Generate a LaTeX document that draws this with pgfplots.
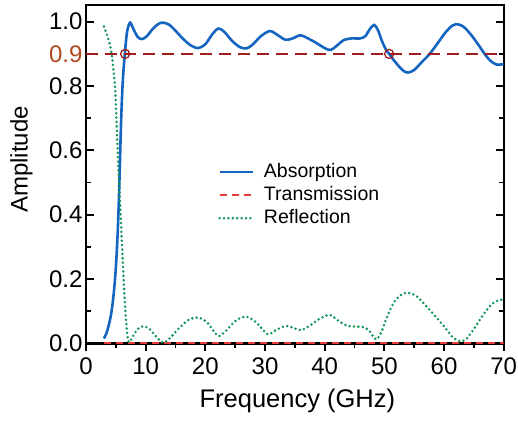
\documentclass[border=0pt]{standalone}
\usepackage{fontspec}
\setmainfont{Liberation Sans}
\usepackage{pgfplots}
\pgfplotsset{compat=1.18}
\definecolor{cblue}{RGB}{21,101,192}
\definecolor{cgreen}{RGB}{20,150,90}
\definecolor{cred}{RGB}{232,60,60}
\definecolor{cdark}{RGB}{160,30,30}
\definecolor{clab}{RGB}{176,72,32}
\begin{document}
\begin{tikzpicture}
\begin{axis}[
  scale only axis,
  width=417.7pt, height=338.3pt,
  xmin=0, xmax=70, ymin=0, ymax=1.052,
  axis line style={line width=2.4pt},
  xtick={0,10,...,70},
  ytick={0,0.2,0.4,0.6,0.8,1.0},
  minor x tick num=1,
  minor y tick num=1,
  xtick pos=bottom,
  ytick pos=both,
  xtick align=outside,
  ytick align=inside,
  major tick length=8pt,
  minor tick length=4.5pt,
  every tick/.style={black, line width=1.8pt},
  /pgf/number format/assume math mode=true,
  yticklabel style={/pgf/number format/fixed, /pgf/number format/fixed zerofill, /pgf/number format/precision=1},
  ticklabel style={font=\fontsize{24}{26}\selectfont},
  xticklabel style={yshift=-3pt},
  extra y ticks={0.9},
  extra y tick style={major tick length=0pt, yticklabel style={color=clab}},
  xlabel={Frequency (GHz)},
  ylabel={Amplitude},
  xlabel style={font=\fontsize{25.5}{27}\selectfont, at={(rel axis cs:0.506,0)}, anchor=north, inner sep=0pt, yshift=-45.5pt},
  ylabel style={font=\fontsize{24}{26}\selectfont, at={(rel axis cs:0,0.543)}, anchor=north, inner sep=0pt, yshift=76pt},
  legend style={at={(rel axis cs:0.316,0.533)}, anchor=north west, draw=none, fill=none, inner sep=0pt,
    font=\fontsize{19.5}{22}\selectfont, row sep=5pt, column sep=10pt,
    nodes={inner sep=0pt, text height=14pt, text depth=4pt}},
  legend cell align=left,
  legend image code/.code={\draw[#1] (0pt,0pt) -- (33pt,0pt);},
]
\addplot[cblue, line width=2.6pt, smooth, tension=0.5] coordinates {
(3.0,0.015) (3.4,0.03) (3.8,0.055) (4.2,0.09) (4.5,0.13) (4.8,0.185) (5.05,0.25)
(5.3,0.34) (5.5,0.44) (5.7,0.57) (5.9,0.70) (6.15,0.81) (6.5,0.90) (6.9,0.97) (7.4,0.997)
(8.0,0.975) (8.7,0.952) (9.4,0.946) (10.2,0.955) (11.2,0.978) (12.2,0.994) (13.0,0.997)
(14.0,0.990) (15.0,0.972) (16.2,0.948) (17.5,0.927) (18.8,0.918) (20.0,0.930) (21.2,0.962)
(22.2,0.979) (23.2,0.968) (24.5,0.940) (25.8,0.921) (26.9,0.917) (28.0,0.930) (29.3,0.955)
(30.8,0.971) (32.0,0.960) (33.4,0.944) (34.6,0.948) (35.9,0.958) (37.0,0.950) (38.5,0.935)
(40.0,0.918) (41.0,0.912) (42.0,0.925) (43.2,0.943) (44.5,0.948) (45.9,0.948) (46.8,0.955)
(47.6,0.978) (48.3,0.990) (48.9,0.975) (49.6,0.940) (50.3,0.912) (50.8,0.900) (51.6,0.880)
(52.5,0.860) (53.3,0.846) (54.0,0.842) (55.0,0.850) (56.3,0.875) (57.6,0.900) (59.0,0.935)
(60.3,0.968) (61.4,0.988) (62.3,0.992) (63.3,0.984) (64.5,0.960) (65.7,0.930) (66.8,0.900)
(67.8,0.878) (68.8,0.867) (70.0,0.868)
};
\addlegendentry{Absorption}
\addplot[cred, line width=2pt, dash pattern=on 7pt off 5pt] coordinates {
(3.0,0.001) (10,0.001) (20,0.001) (30,0.001) (40,0.001) (50,0.001) (60,0.001) (70,0.001)
};
\addlegendentry{Transmission}
\addplot[cgreen, line width=2.8pt, line cap=round, dash pattern=on 0pt off 4.4pt, smooth, tension=0.5] coordinates {
(3.0,0.985) (3.5,0.96) (4.0,0.93) (4.3,0.90) (4.6,0.85) (4.86,0.80) (5.1,0.70) (5.3,0.60)
(5.55,0.50) (5.8,0.40) (6.05,0.30) (6.3,0.20) (6.6,0.10) (6.9,0.03) (7.2,0.003) (7.8,0.02)
(8.6,0.043) (9.6,0.053) (10.6,0.045) (11.8,0.02) (12.9,0.002) (14.0,0.015) (15.5,0.045)
(17.2,0.073) (18.8,0.080) (20.3,0.065) (21.5,0.035) (22.3,0.022) (23.5,0.040) (25.2,0.072)
(26.9,0.083) (28.5,0.065) (30.0,0.035) (30.7,0.028) (32.0,0.043) (33.6,0.054) (35.0,0.046)
(36.1,0.041) (37.5,0.055) (39.3,0.078) (40.9,0.088) (42.3,0.070) (43.7,0.055) (45.0,0.052)
(46.5,0.050) (47.5,0.038) (48.6,0.012) (49.5,0.035) (50.5,0.085) (51.7,0.130) (53.0,0.153)
(54.0,0.157) (55.3,0.148) (56.8,0.120) (58.5,0.085) (60.2,0.048) (61.5,0.018) (62.7,0.006)
(63.8,0.015) (65.2,0.050) (66.8,0.095) (68.2,0.125) (69.4,0.135) (70.0,0.135)
};
\addlegendentry{Reflection}
\addplot[cdark, line width=1.6pt, dash pattern=on 12pt off 7pt, forget plot] coordinates {(0,0.9) (70,0.9)};
\addplot[cdark, only marks, mark=o, mark size=4.5pt, mark options={line width=1.3pt}, forget plot] coordinates {(6.55,0.9) (50.8,0.9)};
\coordinate (bl) at (rel axis cs:0,0);
\end{axis}
\pgfresetboundingbox
\path[use as bounding box] (bl) ++(-86pt,-77.7pt) rectangle ++(518pt,421pt);
\end{tikzpicture}
\end{document}
